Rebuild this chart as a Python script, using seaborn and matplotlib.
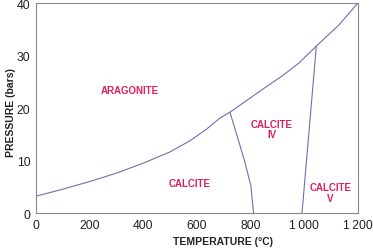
import matplotlib
matplotlib.use("Agg")
import matplotlib.pyplot as plt
import pandas as pd
import seaborn as sns

# phase boundaries (temperature in degC, pressure in bars)
arag_temp = [0, 101, 207, 300, 405, 498, 572, 634, 686, 723, 790, 857, 920, 981, 1045, 1129, 1200]
arag_pres = [3.2, 4.55, 6.1, 7.6, 9.6, 11.6, 13.7, 15.9, 18.1, 19.2, 21.6, 24.0, 26.2, 28.6, 31.8, 35.8, 40.0]

iv_left_temp = [723, 746, 776, 801, 811]
iv_left_pres = [19.2, 15.3, 10.2, 5.2, 0.0]

iv_right_temp = [1045, 1028, 1012, 993, 991]
iv_right_pres = [31.8, 21.6, 12.1, 0.8, 0.0]

region_names = ["ARAGONITE", "CALCITE", "CALCITE\nIV", "CALCITE\nV"]
region_temp = [349, 572, 878, 1098]
region_pres = [23.4, 5.8, 16.0, 3.9]

x_ticks = [0, 200, 400, 600, 800, 1000, 1200]
x_tick_labels = ["0", "200", "400", "600", "800", "1\u2009000", "1\u2009200"]
y_ticks = [0, 10, 20, 30, 40]

sns.set_style("white")
plt.rcParams['font.family'] = ['Liberation Sans', 'DejaVu Sans']

line_color = "#6f6fb2"
label_color = "#d9215f"
grey = "#8a8a8a"

fig = plt.figure(figsize=(3.73, 2.51), dpi=100)
ax = fig.add_axes([0.0965, 0.1474, 0.863, 0.8366])

for t, p in [(arag_temp, arag_pres), (iv_left_temp, iv_left_pres), (iv_right_temp, iv_right_pres)]:
    df = pd.DataFrame({"temp": t, "pres": p})
    sns.lineplot(data=df, x="temp", y="pres", sort=False, estimator=None,
                 color=line_color, linewidth=0.8, ax=ax)

for name, t, p in zip(region_names, region_temp, region_pres):
    ax.text(t, p, name, color=label_color, fontsize=7, fontweight="bold",
            ha="center", va="center", linespacing=1.1)

ax.set_xlim(0, 1200)
ax.set_ylim(0, 40)
ax.set_xticks(x_ticks)
ax.set_xticklabels(x_tick_labels)
ax.set_yticks(y_ticks)
ax.tick_params(axis="both", direction="in", length=6.5, width=0.8, color=grey,
               labelsize=8.8, labelcolor="#222222", pad=4)
ax.tick_params(axis="both", which="both", top=False, right=False)
for s in ax.spines.values():
    s.set_color(grey)
    s.set_linewidth(0.8)

ax.set_xlabel("TEMPERATURE (°C)", fontsize=7.5, fontweight="bold", color="#222222")
ax.set_ylabel("PRESSURE (bars)", fontsize=7.5, fontweight="bold", color="#222222")
ax.xaxis.set_label_coords(0.582, -0.11)
ax.yaxis.set_label_coords(-0.062, 0.483)

fig.savefig("out.png", dpi=100)
